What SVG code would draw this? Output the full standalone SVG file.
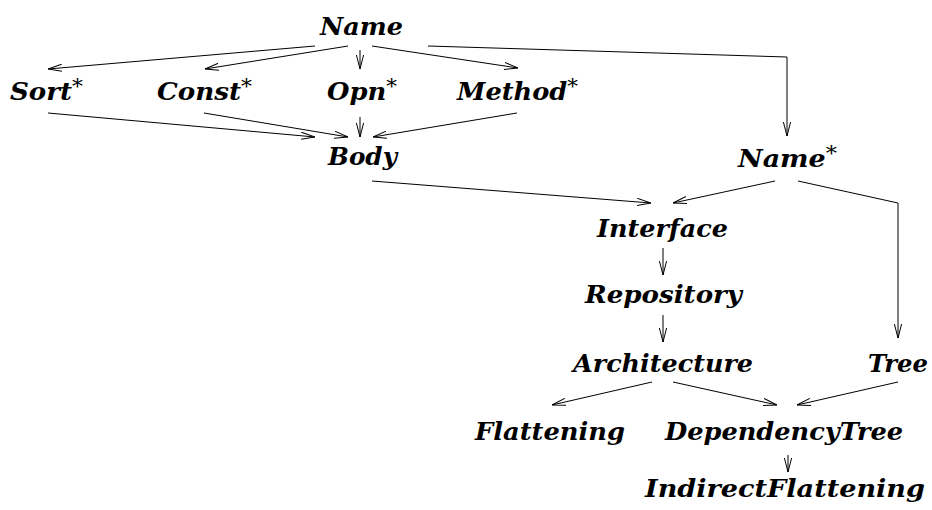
<svg xmlns="http://www.w3.org/2000/svg" width="932" height="510" viewBox="0 0 932 510">
<style>
text{font-family:"DejaVu Serif","Liberation Serif",serif;font-weight:bold;font-style:italic;font-size:24px;fill:#000}
.s{font-size:20px;font-weight:normal;font-style:normal}
#edges path{fill:none;stroke:#000;stroke-width:1;marker-end:url(#ah)}
</style>
<defs>
<marker id="ah" markerUnits="userSpaceOnUse" viewBox="0 0 14 8" refX="14" refY="4" markerWidth="14" markerHeight="8" orient="auto">
<path d="M0,0.4 L14,4 L0,7.6" fill="none" stroke="#000" stroke-width="1"/>
</marker>
</defs>
<rect width="932" height="510" fill="#fff"/>
<g id="edges">
<path d="M315,46 L48,69"/>
<path d="M348,46 L205,69"/>
<path d="M360,50 L360,69"/>
<path d="M372,46 L518,68"/>
<path d="M428,46 L787,57 L787,136"/>
<path d="M48,113 L315,137"/>
<path d="M204,113 L348,137"/>
<path d="M360,117 L360,137"/>
<path d="M517,113 L373,137"/>
<path d="M372,181 L651,203"/>
<path d="M775,181 L673,203"/>
<path d="M798,181 L898,203 L898,338"/>
<path d="M663,248 L663,275"/>
<path d="M663,315 L663,342"/>
<path d="M652,382 L552,405"/>
<path d="M673,382 L777,405"/>
<path d="M898,382 L797,405"/>
<path d="M788,455 L788,472"/>
</g>
<g id="n-name"><text x="320" y="35" textLength="83" lengthAdjust="spacingAndGlyphs">Name</text></g>
<g id="n-sort"><text x="10" y="100" textLength="73" lengthAdjust="spacingAndGlyphs">Sort<tspan class="s" dy="-7">*</tspan></text></g>
<g id="n-const"><text x="157" y="100" textLength="95" lengthAdjust="spacingAndGlyphs">Const<tspan class="s" dy="-7">*</tspan></text></g>
<g id="n-opn"><text x="327" y="100" textLength="70" lengthAdjust="spacingAndGlyphs">Opn<tspan class="s" dy="-7">*</tspan></text></g>
<g id="n-method"><text x="457" y="100" textLength="121" lengthAdjust="spacingAndGlyphs">Method<tspan class="s" dy="-7">*</tspan></text></g>
<g id="n-body"><text x="328" y="165" textLength="69" lengthAdjust="spacingAndGlyphs">Body</text></g>
<g id="n-name2"><text x="738" y="167" textLength="99" lengthAdjust="spacingAndGlyphs">Name<tspan class="s" dy="-7">*</tspan></text></g>
<g id="n-interface"><text x="597" y="237" textLength="131" lengthAdjust="spacingAndGlyphs">Interface</text></g>
<g id="n-repository"><text x="585" y="303" textLength="157" lengthAdjust="spacingAndGlyphs">Repository</text></g>
<g id="n-architecture"><text x="573" y="372" textLength="180" lengthAdjust="spacingAndGlyphs">Architecture</text></g>
<g id="n-tree"><text x="868" y="372" textLength="60" lengthAdjust="spacingAndGlyphs">Tree</text></g>
<g id="n-flattening"><text x="475" y="440" textLength="150" lengthAdjust="spacingAndGlyphs">Flattening</text></g>
<g id="n-deptree"><text x="665" y="440" textLength="238" lengthAdjust="spacingAndGlyphs">DependencyTree</text></g>
<g id="n-indirect"><text x="645" y="497" textLength="280" lengthAdjust="spacingAndGlyphs">IndirectFlattening</text></g>
</svg>
